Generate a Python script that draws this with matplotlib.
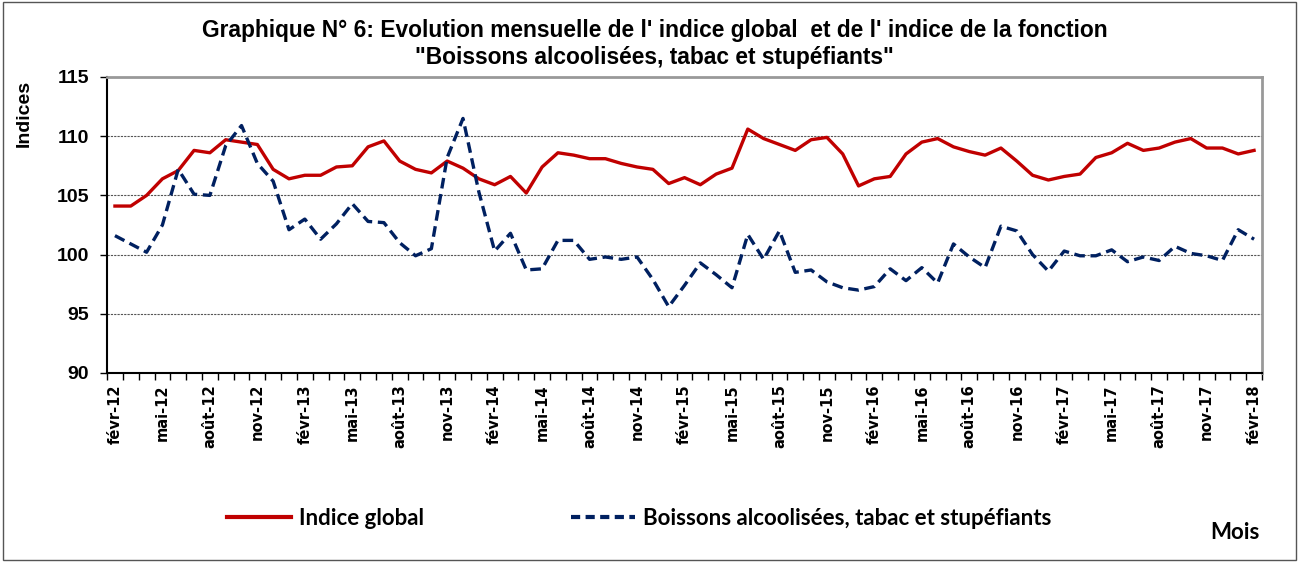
import numpy as np
import matplotlib.pyplot as plt
from matplotlib.patches import Rectangle

plt.rcParams['font.family'] = ['Liberation Sans', 'DejaVu Sans']

# données mensuelles févr-12 .. févr-18
mois_noms = ['janv', 'févr', 'mars', 'avr', 'mai', 'juin', 'juil', 'août', 'sept', 'oct', 'nov', 'déc']
mois = []
for k in range(73):
    m = (1 + k) % 12
    an = 12 + (1 + k) // 12
    mois.append(f"{mois_noms[m]}-{an}")

indice_global = [104.1, 104.1, 105.0, 106.4, 107.1, 108.8, 108.6, 109.7, 109.5, 109.3,
                 107.2, 106.4, 106.7, 106.7, 107.4, 107.5, 109.1, 109.6, 107.9, 107.2,
                 106.9, 107.9, 107.3, 106.4, 105.9, 106.6, 105.2, 107.4, 108.6, 108.4,
                 108.1, 108.1, 107.7, 107.4, 107.2, 106.0, 106.5, 105.9, 106.8, 107.3,
                 110.6, 109.8, 109.3, 108.8, 109.7, 109.9, 108.5, 105.8, 106.4, 106.6,
                 108.5, 109.5, 109.8, 109.1, 108.7, 108.4, 109.0, 107.9, 106.7, 106.3,
                 106.6, 106.8, 108.2, 108.6, 109.4, 108.8, 109.0, 109.5, 109.8, 109.0,
                 109.0, 108.5, 108.8]
boissons = [101.6, 100.9, 100.2, 102.5, 107.2, 105.1, 105.0, 109.2, 110.9, 107.7,
            106.2, 102.1, 103.0, 101.3, 102.6, 104.3, 102.8, 102.7, 101.0, 99.9,
            100.5, 108.2, 111.5, 105.3, 100.3, 101.8, 98.7, 98.8, 101.2, 101.2,
            99.6, 99.8, 99.6, 99.8, 97.9, 95.6, 97.4, 99.3, 98.3, 97.2,
            101.7, 99.6, 102.0, 98.5, 98.7, 97.7, 97.2, 97.0, 97.3, 98.8,
            97.8, 98.9, 97.6, 100.9, 99.8, 98.9, 102.4, 102.0, 100.0, 98.6,
            100.3, 99.9, 99.9, 100.4, 99.4, 99.8, 99.5, 100.7, 100.1, 99.9,
            99.5, 102.1, 101.3]

x = np.arange(len(mois))

fig = plt.figure(figsize=(12.99, 5.62), dpi=100)
ax = fig.add_axes([0.0824, 0.3363, 0.8891, 0.5267])

ax.plot(x, indice_global, color='#C00000', lw=2.4, label='Indice global', zorder=3)
ax.plot(x, boissons, color='#002060', lw=2.4, dashes=(3.2, 1.7),
        label='Boissons alcoolisées, tabac et stupéfiants', zorder=3)

ax.set_xlim(-0.5, len(mois) - 0.5)
ax.set_ylim(90, 115)
ax.set_yticks(np.arange(90, 116, 5))
ax.tick_params(axis='y', labelsize=14, direction='out', length=5, width=1, pad=8)
for t in ax.get_yticklabels():
    t.set_fontweight('bold')

# étiquettes tous les 3 mois, graduations entre catégories
ax.set_xticks(x[::3])
ax.set_xticklabels(mois[::3], rotation=90, fontsize=10.5, fontweight='bold',
                   family=['DejaVu Sans'])
ax.set_xticks(np.arange(-0.5, len(mois), 1), minor=True)
ax.tick_params(axis='x', which='major', length=0, pad=8)
ax.tick_params(axis='x', which='minor', direction='out', length=5, width=1)

ax.yaxis.grid(True, linestyle=(0, (2, 1)), color='#555555', lw=0.8)
ax.set_axisbelow(True)
ax.spines['left'].set_linewidth(1.5)
ax.spines['bottom'].set_linewidth(1.5)
ax.spines['top'].set_color('#999999')
ax.spines['right'].set_color('#999999')
ax.spines['top'].set_linewidth(2)
ax.spines['right'].set_linewidth(2)

ax.set_ylabel('Indices', fontsize=14, fontweight='bold')
ax.yaxis.set_label_coords(-0.064, 0.878)

fig.text(0.504, 0.945, "Graphique N° 6: Evolution mensuelle de l' indice global  et de l' indice de la fonction",
         ha='center', va='center', fontsize=16.4, fontweight='bold')
fig.text(0.504, 0.897, '"Boissons alcoolisées, tabac et stupéfiants"',
         ha='center', va='center', fontsize=16.4, fontweight='bold')

leg = fig.legend(loc='center', bbox_to_anchor=(0.492, 0.077), ncol=2, frameon=False,
                 prop={'family': 'Lato', 'weight': 'bold', 'size': 16},
                 handlelength=2.9, columnspacing=6.6, handletextpad=0.35)
for h in leg.get_lines():
    h.set_linewidth(3)
leg.get_lines()[1].set_dashes((2.2, 1.3))
fig.text(0.951, 0.052, 'Mois', ha='center', va='center', fontsize=16,
         fontweight='bold', family='Lato')

fig.patches.append(Rectangle((0.002, 0.003), 0.996, 0.993, transform=fig.transFigure,
                             fill=False, edgecolor='#555555', lw=1))

fig.savefig('out.png', dpi=100)
